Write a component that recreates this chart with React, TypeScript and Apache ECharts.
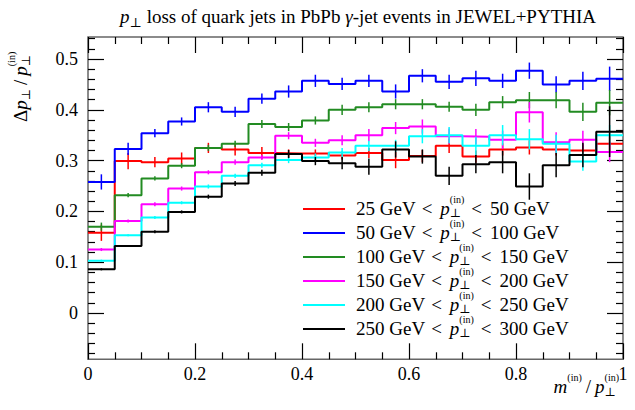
import React, { useEffect, useRef } from 'react';
import * as echarts from 'echarts';

// ---------- data ----------
const binEdges = [0, 0.05, 0.1, 0.15, 0.2, 0.25, 0.3, 0.35, 0.4, 0.45, 0.5, 0.55, 0.6, 0.65, 0.7, 0.75, 0.8, 0.85, 0.9, 0.95, 1];

const lowGeV = [25, 50, 100, 150, 200, 250];
const highGeV = [50, 100, 150, 200, 250, 300];
const seriesColors = ['#ff0000', '#0000ff', '#228b22', '#ff00ff', '#00ffff', '#000000'];

const red = [0.158, 0.299, 0.297, 0.304, 0.325, 0.322, 0.315, 0.314, 0.314, 0.310, 0.315, 0.301, 0.309, 0.329, 0.308, 0.322, 0.326, 0.322, 0.320, 0.333];
const blue = [0.258, 0.323, 0.354, 0.377, 0.405, 0.396, 0.422, 0.436, 0.457, 0.451, 0.457, 0.436, 0.467, 0.455, 0.462, 0.457, 0.477, 0.450, 0.457, 0.461];
const green = [0.170, 0.232, 0.265, 0.290, 0.325, 0.333, 0.372, 0.366, 0.379, 0.400, 0.405, 0.411, 0.411, 0.406, 0.400, 0.415, 0.419, 0.419, 0.396, 0.414];
const magenta = [0.125, 0.181, 0.214, 0.245, 0.277, 0.297, 0.306, 0.349, 0.335, 0.340, 0.350, 0.364, 0.367, 0.348, 0.347, 0.341, 0.395, 0.336, 0.341, 0.317];
const cyan = [0.103, 0.153, 0.188, 0.217, 0.249, 0.270, 0.291, 0.301, 0.306, 0.316, 0.329, 0.329, 0.348, 0.350, 0.329, 0.350, 0.342, 0.333, 0.298, 0.350];
const black = [0.086, 0.132, 0.160, 0.199, 0.229, 0.255, 0.276, 0.313, 0.299, 0.295, 0.288, 0.322, 0.308, 0.270, 0.293, 0.297, 0.249, 0.291, 0.311, 0.357];

const redErr = [0.016, 0.016, 0.010, 0.012, 0.010, 0.012, 0.012, 0.008, 0.008, 0.008, 0.010, 0.016, 0.012, 0.014, 0.012, 0.012, 0.014, 0.012, 0.012, 0.015];
const blueErr = [0.015, 0.012, 0.008, 0.008, 0.010, 0.010, 0.010, 0.012, 0.012, 0.012, 0.012, 0.014, 0.013, 0.014, 0.015, 0.014, 0.016, 0.016, 0.018, 0.024];
const greenErr = [0.008, 0.004, 0.004, 0.005, 0.006, 0.006, 0.008, 0.008, 0.008, 0.010, 0.010, 0.010, 0.010, 0.010, 0.012, 0.012, 0.016, 0.016, 0.018, 0.025];
const magentaErr = [0.003, 0.003, 0.004, 0.004, 0.004, 0.005, 0.005, 0.007, 0.008, 0.010, 0.012, 0.012, 0.014, 0.015, 0.015, 0.018, 0.020, 0.020, 0.018, 0.020];
const cyanErr = [0.002, 0.002, 0.003, 0.003, 0.004, 0.004, 0.005, 0.006, 0.008, 0.009, 0.010, 0.012, 0.014, 0.016, 0.018, 0.020, 0.020, 0.018, 0.018, 0.020];
const blackErr = [0.002, 0.002, 0.003, 0.003, 0.004, 0.005, 0.006, 0.008, 0.008, 0.012, 0.016, 0.016, 0.014, 0.018, 0.018, 0.022, 0.026, 0.024, 0.024, 0.050];

const allValues = [red, blue, green, magenta, cyan, black];
const allErrors = [redErr, blueErr, greenErr, magentaErr, cyanErr, blackErr];

const yMajorTicks = [0, 0.1, 0.2, 0.3, 0.4, 0.5];
const Y_MIN = -0.0911;
const Y_MAX = 0.5433;

// ---------- text layout helpers ----------
const FONT = '"Liberation Serif", "DejaVu Serif", serif';
const MAIN = 19;

type Seg = { t: string; size?: number; italic?: boolean; dy?: number; stack?: boolean; gap?: number };

let measureCtx: CanvasRenderingContext2D | null = null;
function measure(t: string, size: number, italic?: boolean) {
  if (!measureCtx) measureCtx = document.createElement('canvas').getContext('2d');
  if (!measureCtx) return t.length * size * 0.5;
  measureCtx.font = `${italic ? 'italic ' : ''}${size}px ${FONT}`;
  return measureCtx.measureText(t).width;
}

function layout(segs: Seg[], x0: number, base: number, anchor: 'left' | 'center' | 'right') {
  let x = 0;
  let pending = 0;
  const items: { s: Seg; x: number; size: number }[] = [];
  for (const s of segs) {
    const size = s.size ?? MAIN;
    const w = measure(s.t, size, s.italic);
    items.push({ s, x, size });
    if (s.stack) {
      pending = Math.max(pending, w);
    } else {
      x += Math.max(w, pending) + (s.gap ?? 0);
      pending = 0;
    }
  }
  const total = x + pending;
  const off = anchor === 'left' ? x0 : anchor === 'center' ? x0 - total / 2 : x0 - total;
  return items.map((it) => ({
    type: 'text',
    silent: true,
    x: off + it.x,
    y: base + (it.s.dy ?? 0) - 0.34 * it.size,
    style: {
      text: it.s.t,
      fontSize: it.size,
      fontFamily: FONT,
      fontStyle: it.s.italic ? 'italic' : 'normal',
      fill: '#000',
      align: 'left',
      verticalAlign: 'middle',
    },
  }));
}

function legendSegs(lo: number, hi: number): Seg[] {
  return [
    { t: `${lo} GeV`, gap: 6 },
    { t: '<', gap: 8 },
    { t: 'p', italic: true },
    { t: '(in)', size: 10, dy: -12, stack: true },
    { t: '⊥', size: 12, dy: 3, gap: 7 },
    { t: '<', gap: 8 },
    { t: `${hi} GeV` },
  ];
}

export default function App() {
  const ref = useRef<HTMLDivElement>(null);

  useEffect(() => {
    if (!ref.current) return;
    const chart = echarts.init(ref.current, undefined, { renderer: 'svg' });

    const minorY: number[] = [];
    for (let k = -4; k <= 27; k++) {
      const v = Math.round(k * 2) / 100;
      if (Math.round(v * 100) % 10 !== 0 && v > Y_MIN && v < Y_MAX) minorY.push(v);
    }

    const stepSeries = allValues.map((vals, si) => {
      const pts: number[][] = [];
      vals.forEach((v, i) => {
        pts.push([binEdges[i], v]);
        pts.push([binEdges[i + 1], v]);
      });
      return {
        type: 'line',
        name: `s${si}`,
        data: pts,
        showSymbol: false,
        symbol: 'none',
        lineStyle: { color: seriesColors[si], width: 2 },
        z: 3 + si,
        silent: true,
      };
    });

    const errSeries = allValues.map((vals, si) => ({
      type: 'custom',
      name: `e${si}`,
      z: 3 + si,
      silent: true,
      data: vals.map((v, i) => [
        (binEdges[i] + binEdges[i + 1]) / 2,
        v - allErrors[si][i],
        v + allErrors[si][i],
      ]),
      encode: { x: 0, y: [1, 2] },
      renderItem: (_p: any, api: any) => {
        const a = api.coord([api.value(0), api.value(1)]);
        const b = api.coord([api.value(0), api.value(2)]);
        return {
          type: 'line',
          shape: { x1: a[0], y1: a[1], x2: b[0], y2: b[1] },
          style: { stroke: seriesColors[si], lineWidth: 1.5 },
        };
      },
    }));

    const graphic: any[] = [];
    // title
    graphic.push(
      ...layout(
        [
          { t: 'p', italic: true },
          { t: '⊥', size: 13, dy: 4, gap: 5 },
          { t: 'loss of quark jets in PbPb ' },
          { t: 'γ', italic: true },
          { t: '-jet events in JEWEL+PYTHIA' },
        ],
        358,
        23,
        'center'
      )
    );
    // x axis title
    graphic.push(
      ...layout(
        [
          { t: 'm', italic: true },
          { t: '(in)', size: 10, dy: -12, gap: 4 },
          { t: '/', gap: 4 },
          { t: 'p', italic: true },
          { t: '(in)', size: 10, dy: -12, stack: true },
          { t: '⊥', size: 12, dy: 3 },
        ],
        619,
        393,
        'right'
      )
    );
    // y axis title (rotated)
    graphic.push({
      type: 'group',
      x: 27,
      y: 122,
      rotation: Math.PI / 2,
      silent: true,
      children: layout(
        [
          { t: 'Δ' },
          { t: 'p', italic: true },
          { t: '⊥', size: 12, dy: 3, gap: 4 },
          { t: '/', gap: 4 },
          { t: 'p', italic: true },
          { t: '(in)', size: 10, dy: -12, stack: true },
          { t: '⊥', size: 12, dy: 3 },
        ],
        0,
        0,
        'left'
      ),
    });
    // legend
    lowGeV.forEach((lo, i) => {
      const rowY = 209 + i * 24;
      graphic.push({
        type: 'line',
        silent: true,
        shape: { x1: 303, y1: rowY, x2: 345, y2: rowY },
        style: { stroke: seriesColors[i], lineWidth: 2 },
        z: 10,
      });
      graphic.push(...layout(legendSegs(lo, highGeV[i]), 356, rowY + 5.5, 'left'));
    });

    const tickStyle = { color: '#000', width: 1.2 };

    const xAxisBase = {
      type: 'value',
      min: 0,
      max: 1,
      interval: 0.2,
      axisLine: { show: false, onZero: false },
      splitLine: { show: false },
      axisTick: { show: true, inside: true, length: 16, lineStyle: tickStyle },
      minorTick: { show: true, splitNumber: 4, length: 7, lineStyle: tickStyle },
      minorSplitLine: { show: false },
    };

    const yBase = (pos: 'left' | 'right', ticks: number[], len: number, labels: boolean) => ({
      type: 'value',
      position: pos,
      offset: 0,
      min: Y_MIN,
      max: Y_MAX,
      axisLine: { show: false, onZero: false },
      splitLine: { show: false },
      axisTick: {
        show: true,
        inside: true,
        length: len,
        customValues: ticks,
        lineStyle: tickStyle,
      },
      axisLabel: labels
        ? {
            show: true,
            customValues: ticks,
            margin: 10,
            fontFamily: FONT,
            fontSize: 18,
            color: '#000',
          }
        : { show: false },
    });

    chart.setOption({
      animation: false,
      backgroundColor: '#fff',
      grid: {
        left: 88,
        right: 12,
        top: 37,
        bottom: 50.7,
        show: true,
        borderColor: '#666',
        borderWidth: 1.5,
        backgroundColor: 'transparent',
      },
      xAxis: [
        {
          ...xAxisBase,
          position: 'bottom',
          axisLabel: { show: true, margin: 6, fontFamily: FONT, fontSize: 18, color: '#000' },
        },
        { ...xAxisBase, position: 'top', axisLabel: { show: false } },
      ],
      yAxis: [
        yBase('left', yMajorTicks, 16, true),
        yBase('left', minorY, 7, false),
        yBase('right', yMajorTicks, 16, false),
        yBase('right', minorY, 7, false),
      ],
      series: [...stepSeries, ...errSeries],
      graphic,
    });

    return () => chart.dispose();
  }, []);

  return (
    <div
      ref={ref}
      style={{ position: 'fixed', left: 0, top: 0, width: 635, height: 410, background: '#fff' }}
    />
  );
}
